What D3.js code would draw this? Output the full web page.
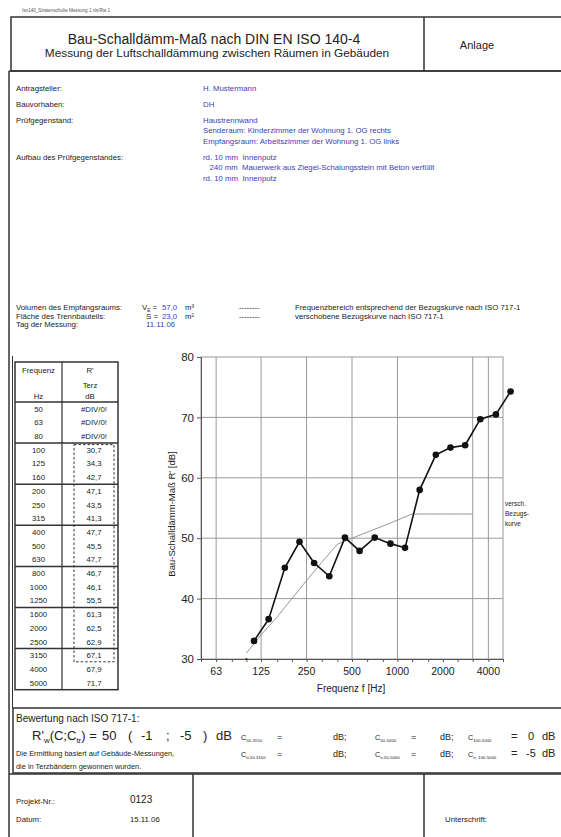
<!DOCTYPE html>
<html>
<head>
<meta charset="utf-8">
<script src="https://cdn.jsdelivr.net/npm/d3@7"></script>
<style>
	body { margin: 0; background: #fff; }
	svg { display: block; font-family: 'Liberation Sans', Arial, sans-serif; }
</style>
</head>
<body>
<div id="page"></div>
<script>
// third-octave bands of the table
const freqs = [50, 63, 80, 100, 125, 160, 200, 250, 315, 400, 500, 630, 800, 1000, 1250, 1600, 2000, 2500, 3150, 4000, 5000]
// R' per band as listed in the table (null = #DIV/0!)
const rTable = [null, null, null, 30.7, 34.3, 42.7, 47.1, 43.5, 41.3, 47.7, 45.5, 47.7, 46.7, 46.1, 55.5, 61.3, 62.5, 62.9, 67.1, 67.9, 71.7]
// measured curve as it is drawn in the chart (100 .. 5000 Hz)
const plotFreqs = [100, 125, 160, 200, 250, 315, 400, 500, 630, 800, 1000, 1250, 1600, 2000, 2500, 3150, 4000, 5000]
const rPlot = [33.0, 36.6, 45.1, 49.4, 45.9, 43.7, 50.1, 47.9, 50.1, 49.1, 48.4, 58.0, 63.8, 65.0, 65.4, 69.7, 70.5, 74.3]
// shifted reference curve ISO 717-1 (100 .. 3150 Hz)
const refFreqs = [100, 125, 160, 200, 250, 315, 400, 500, 630, 800, 1000, 1250, 1600, 2000, 2500, 3150]
const refCurve = [31, 34, 37, 40, 43, 46, 49, 50, 51, 52, 53, 54, 54, 54, 54, 54]
// axes
const xTickLabels = [63, 125, 250, 500, 1000, 2000, 4000]
const xGridLines = [63, 125, 250, 500, 1000, 3150, 4000]
const yTicks = [30, 40, 50, 60, 70, 80]
// header fields
const infoLabels = ['Antragsteller:', 'Bauvorhaben:', 'Prüfgegenstand:', 'Aufbau des Prüfgegenstandes:']
const infoValues = [
	['H. Mustermann'],
	['DH'],
	['Haustrennwand', 'Senderaum: Kinderzimmer der Wohnung 1. OG rechts', 'Empfangsraum: Arbeitszimmer der Wohnung 1. OG links'],
	['rd. 10 mm  Innenputz', '   240 mm  Mauerwerk aus Ziegel-Schalungsstein mit Beton verfüllt', 'rd. 10 mm  Innenputz'],
]
const rw = 50
const cValues = ['-1', '-5']
const cRowLabels = [['50-3150', '50-5000', '100-5000'], ['tr,50-3150', 'tr,50-5000', 'tr, 100-5000']]
const cRowValues = [['', '', '0'], ['', '', '-5']]

const W = 561
const H = 837
const ink = '#222'
const blue = '#4040b8'
const grid = '#9a9a9a'

const svg = d3.select('#page').append('svg').attr('width', W).attr('height', H)

const text = (x, y, s, o = {}) =>
	svg
		.append('text')
		.attr('x', x)
		.attr('y', y)
		.attr('font-size', o.size || 7.8)
		.attr('fill', o.fill || ink)
		.attr('text-anchor', o.anchor || 'start')
		.style('white-space', 'pre')
		.text(s)

const line = (x1, y1, x2, y2, w = 1, c = ink, dash = null) =>
	svg
		.append('line')
		.attr('x1', x1)
		.attr('y1', y1)
		.attr('x2', x2)
		.attr('y2', y2)
		.attr('stroke', c)
		.attr('stroke-width', w)
		.attr('stroke-dasharray', dash)

// text with a subscript part
const subText = (x, y, main, sub, rest, size, o = {}) => {
	const t = text(x, y, main, { size, ...o })
	t.append('tspan').attr('font-size', size * 0.6).attr('dy', size * 0.22).text(sub)
	if (rest) t.append('tspan').attr('dy', -size * 0.22).attr('font-size', size).text(rest)
	return t
}

//---------------- frames ----------------
text(22, 12, 'Iso140_Stratenschulte Messung 1.xls/Rw 1', { size: 4.6, fill: '#555' })
svg.append('rect').attr('x', 11).attr('y', 17).attr('width', 560).attr('height', 54)
	.attr('fill', 'none').attr('stroke', '#333').attr('stroke-width', 1.5)
line(424, 17, 424, 71, 1.5, '#333')
line(9, 71, 9, 837, 1.5, '#333')
line(12.5, 356, 12.5, 708, 1, '#333')
line(9, 71, 561, 71, 1.5, '#333')
// Bewertung box
svg.append('rect').attr('x', 13).attr('y', 708).attr('width', 560).attr('height', 65)
	.attr('fill', 'none').attr('stroke', '#333').attr('stroke-width', 1.5)
line(9, 774, 561, 774, 1.5, '#333')
line(193, 774, 193, 837, 1.5, '#333')
line(424, 774, 424, 837, 1.5, '#333')

//---------------- title ----------------
text(214, 44, 'Bau-Schalldämm-Maß nach DIN EN ISO 140-4', { size: 14, anchor: 'middle' })
text(217, 57, 'Messung der Luftschalldämmung zwischen Räumen in Gebäuden', { size: 11.8, anchor: 'middle' })
text(477, 49, 'Anlage', { size: 11, anchor: 'middle' })

//---------------- info block ----------------
const infoY = [91, 107, 123, 160]
infoLabels.forEach((l, i) => {
	text(16, infoY[i], l)
	infoValues[i].forEach((v, j) => text(203, infoY[i] + j * 10.3, v, { fill: blue }))
})

text(16, 310, 'Volumen des Empfangsraums:')
text(16, 318.5, 'Fläche des Trennbauteils:')
text(16, 327, 'Tag der Messung:')
subText(142, 310, 'V', 'E', ' =', 7.8)
text(158, 318.5, 'S =', { anchor: 'end' })
text(162, 310, '57,0', { fill: blue })
text(162, 318.5, '23,0', { fill: blue })
text(185, 310, 'm³')
text(185, 318.5, 'm²')
text(146, 327, '11.11.06', { fill: blue })
text(239, 310, '--------')
text(239, 318.5, '--------')
text(295, 310, 'Frequenzbereich entsprechend der Bezugskurve nach ISO 717-1')
text(295, 318.5, 'verschobene Bezugskurve nach ISO 717-1')

//---------------- table ----------------
const tx0 = 15
const tx1 = 62
const tx2 = 118
const ty0 = 362
const tyHead = 402
const rowH = 13.7
const fmt = v => (v == null ? '#DIV/0!' : d3.format('.1f')(v).replace('.', ','))
const rowY = i => tyHead + rowH * (i + 0.5)

svg.append('rect').attr('x', tx0).attr('y', ty0).attr('width', tx2 - tx0).attr('height', tyHead + rowH * freqs.length - ty0)
	.attr('fill', 'none').attr('stroke', '#333').attr('stroke-width', 1.5)
line(tx1, ty0, tx1, tyHead + rowH * freqs.length, 1.2, '#333')
line(tx0, tyHead, tx2, tyHead, 1.5, '#333')
d3.range(3, freqs.length, 3).forEach(i => line(tx0, tyHead + rowH * i, tx2, tyHead + rowH * i, 1.5, '#333'))

text((tx0 + tx1) / 2, 373, 'Frequenz', { anchor: 'middle' })
text((tx1 + tx2) / 2, 373, "R'", { anchor: 'middle' })
text((tx1 + tx2) / 2, 388, 'Terz', { anchor: 'middle' })
text((tx0 + tx1) / 2, 399, 'Hz', { anchor: 'middle' })
text((tx1 + tx2) / 2, 399, 'dB', { anchor: 'middle' })

freqs.forEach((f, i) => {
	text((tx0 + tx1) / 2, rowY(i) + 2.8, f, { anchor: 'middle' })
	text(94, rowY(i) + 2.8, fmt(rTable[i]), { anchor: 'middle' })
})
// dashed frame around the evaluated range 100 .. 3150 Hz
const i100 = freqs.indexOf(100)
const i3150 = freqs.indexOf(3150)
const dashTop = tyHead + rowH * i100 + 1.5
const dashBottom = tyHead + rowH * (i3150 + 1) - 0.5
svg.append('rect').attr('x', 74).attr('y', dashTop).attr('width', 40).attr('height', dashBottom - dashTop)
	.attr('fill', 'none').attr('stroke', '#333').attr('stroke-width', 1).attr('stroke-dasharray', '2.5,2')

//---------------- chart ----------------
const x = d3.scaleLog().domain([50, 5000]).range([201, 503])
const y = d3.scaleLinear().domain([30, 80]).range([659, 357])
// measured points sit half a third-octave band to the right
const xMid = f => x(f * Math.pow(2, 1 / 6))

const chart = svg.append('g')
chart.selectAll('.vgrid').data(xGridLines).enter().append('line')
	.attr('x1', d => x(d)).attr('x2', d => x(d)).attr('y1', y(80)).attr('y2', y(30))
	.attr('stroke', grid).attr('stroke-width', 1)
chart.selectAll('.hgrid').data(yTicks.filter(d => d > 30 && d < 80)).enter().append('line')
	.attr('x1', x(50)).attr('x2', x(5000)).attr('y1', d => y(d)).attr('y2', d => y(d))
	.attr('stroke', grid).attr('stroke-width', 1)
chart.append('rect').attr('x', x(50)).attr('y', y(80)).attr('width', x(5000) - x(50)).attr('height', y(30) - y(80))
	.attr('fill', 'none').attr('stroke', grid).attr('stroke-width', 1)

// axes
const xAxis = d3.axisBottom(x).tickValues(freqs).tickSize(3).tickFormat('')
chart.append('g').attr('transform', `translate(0,${y(30)})`).call(xAxis)
	.call(g => g.selectAll('line,path').attr('stroke', '#555'))
chart.selectAll('.xlab').data(xTickLabels).enter().append('text')
	.attr('x', d => x(d)).attr('y', y(30) + 16).attr('text-anchor', 'middle')
	.attr('font-size', 10.5).attr('fill', ink).text(d => d)

const yAxis = d3.axisLeft(y).tickValues(yTicks).tickSize(4).tickFormat(d => d).tickPadding(3)
chart.append('g').attr('transform', `translate(${x(50)},0)`).call(yAxis)
	.call(g => g.selectAll('line,path').attr('stroke', '#555'))
	.call(g => g.selectAll('text').attr('font-size', 11.5).attr('fill', ink).attr('font-family', 'Liberation Sans, Arial, sans-serif'))

chart.append('text').attr('transform', `translate(175,${(y(30) + y(80)) / 2 + 6}) rotate(-90)`)
	.attr('text-anchor', 'middle').attr('font-size', 9.5).attr('fill', ink)
	.text("Bau-Schalldämm-Maß R' [dB]")
chart.append('text').attr('x', 351).attr('y', 692).attr('text-anchor', 'middle')
	.attr('font-size', 10).attr('fill', ink).text('Frequenz f [Hz]')

// reference curve
chart.append('path').datum(refFreqs.map((f, i) => [f, refCurve[i]]))
	.attr('d', d3.line().x(d => x(d[0])).y(d => y(d[1])))
	.attr('fill', 'none').attr('stroke', '#8a8a8a').attr('stroke-width', 0.9)
chart.append('circle').attr('cx', x(refFreqs[0])).attr('cy', y(30)).attr('r', 1.1).attr('fill', '#333')

// measured curve
const pts = plotFreqs.map((f, i) => [f, rPlot[i]])
chart.append('path').datum(pts)
	.attr('d', d3.line().x(d => xMid(d[0])).y(d => y(d[1])))
	.attr('fill', 'none').attr('stroke', '#111').attr('stroke-width', 1.6)
chart.selectAll('.pt').data(pts).enter().append('circle')
	.attr('cx', d => xMid(d[0])).attr('cy', d => y(d[1])).attr('r', 3.3).attr('fill', '#111')

text(505, 506, 'versch.', { size: 6.5 })
text(505, 516, 'Bezugs-', { size: 6.5 })
text(505, 526, 'kurve', { size: 6.5 })

//---------------- Bewertung ----------------
text(16, 722, 'Bewertung nach ISO 717-1:', { size: 10 })
const rwText = text(32, 740, "R'", { size: 13 })
rwText.append('tspan').attr('font-size', 8).attr('dy', 2.5).text('w')
rwText.append('tspan').attr('font-size', 13).attr('dy', -2.5).text('(C;C')
rwText.append('tspan').attr('font-size', 8).attr('dy', 2.5).text('tr')
rwText.append('tspan').attr('font-size', 13).attr('dy', -2.5).text(') =')
// "50 ( -1 ; -5 ) dB" spread out like the spreadsheet cells
const rwParts = [rw, '(', cValues[0], ';', cValues[1], ')', 'dB']
const rwX = [102, 128, 141, 166, 180, 203, 216]
rwParts.forEach((p, i) => text(rwX[i], 740, p, { size: 13 }))

text(16, 756, 'Die Ermittlung basiert auf Gebäude-Messungen,', { size: 7.4 })
text(16, 769, 'die in Terzbändern gewonnen wurden.', { size: 7.4 })

const cX = [241, 375, 468]
const eqX = [277, 411, 511]
const dbX = [333, 440, 542]
const cY = [740, 757]
cRowLabels.forEach((row, r) => {
	row.forEach((lab, k) => {
		subText(cX[k], cY[r], 'C', lab, null, 7.2)
		text(eqX[k], cY[r], '=', { size: k < 2 ? 9 : 11 })
		if (cRowValues[r][k]) text(531, cY[r], cRowValues[r][k], { size: 11, anchor: 'middle' })
		text(dbX[k], cY[r], k < 2 ? 'dB;' : 'dB', { size: k < 2 ? 9 : 11 })
	})
})

//---------------- footer ----------------
text(16, 804, 'Projekt-Nr.:')
text(130, 803, '0123', { size: 10 })
text(16, 822, 'Datum:')
text(130, 822, '15.11.06')
text(445, 822, 'Unterschrift:')
</script>
</body>
</html>
